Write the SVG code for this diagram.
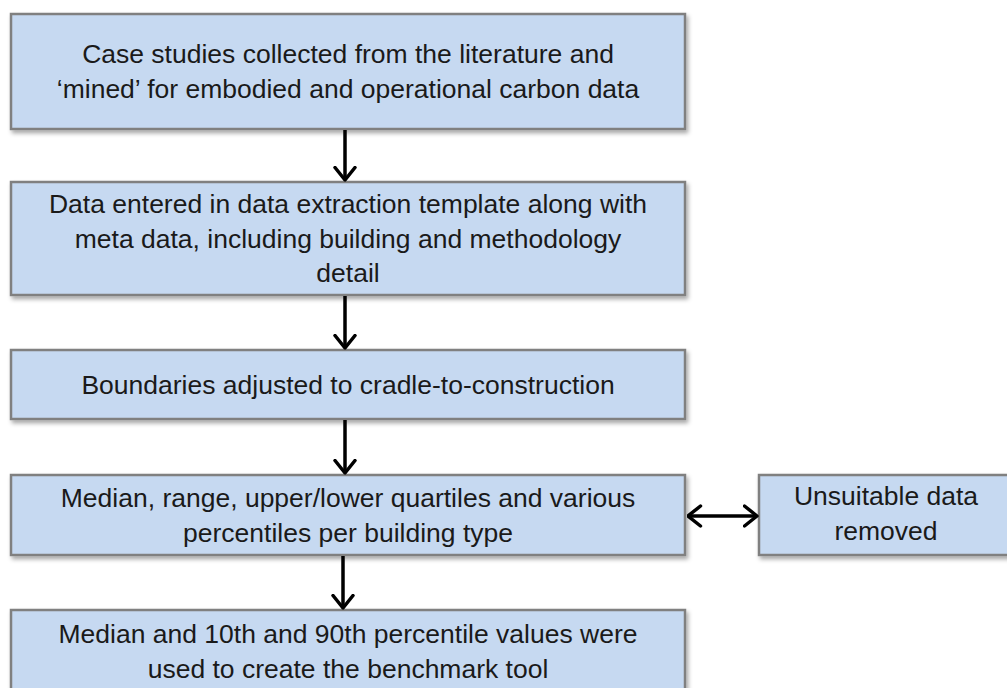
<svg xmlns="http://www.w3.org/2000/svg" width="1007" height="688" viewBox="0 0 1007 688">
<style>
.box{fill:#c6d9f1;stroke:#808080;stroke-width:2.5;filter:url(#sh)}
.t{font-family:"Liberation Sans",Arial,sans-serif;font-size:26.5px;fill:#1a1a1a;text-anchor:middle}
.c{stroke:#000;stroke-width:3.5;fill:none}
</style>
<defs>
<filter id="sh" x="-5%" y="-10%" width="110%" height="130%">
<feDropShadow dx="2" dy="3" stdDeviation="2" flood-color="#000" flood-opacity="0.35"/>
</filter>
<marker id="ah" viewBox="0 0 16 24" refX="14.5" refY="12" markerWidth="16" markerHeight="24" markerUnits="userSpaceOnUse" orient="auto-start-reverse">
<path d="M2,2 L14.5,12 L2,22" fill="none" stroke="#000" stroke-width="3.5" stroke-linecap="round" stroke-linejoin="round"/>
</marker>
</defs>
<g id="n1"><rect class="box" x="11" y="14" width="674" height="115"/>
<text class="t" x="348" y="63">Case studies collected from the literature and</text>
<text class="t" x="348" y="98">‘mined’ for embodied and operational carbon data</text></g>
<g id="n2"><rect class="box" x="11" y="182" width="674" height="113"/>
<text class="t" x="348" y="213">Data entered in data extraction template along with</text>
<text class="t" x="348" y="248">meta data, including building and methodology</text>
<text class="t" x="348" y="282">detail</text></g>
<g id="n3"><rect class="box" x="11" y="350" width="674" height="69"/>
<text class="t" x="348" y="394">Boundaries adjusted to cradle-to-construction</text></g>
<g id="n4"><rect class="box" x="11" y="475" width="674" height="80"/>
<text class="t" x="348" y="507">Median, range, upper/lower quartiles and various</text>
<text class="t" x="348" y="542">percentiles per building type</text></g>
<g id="n5"><rect class="box" x="759" y="475" width="260" height="80"/>
<text class="t" x="886" y="505">Unsuitable data</text>
<text class="t" x="886" y="540">removed</text></g>
<g id="n6"><rect class="box" x="11" y="610" width="674" height="100"/>
<text class="t" x="348" y="643">Median and 10th and 90th percentile values were</text>
<text class="t" x="348" y="678">used to create the benchmark tool</text></g>
<g id="connectors">
<line class="c" x1="345" y1="130" x2="345" y2="180" marker-end="url(#ah)"/>
<line class="c" x1="345" y1="296" x2="345" y2="348" marker-end="url(#ah)"/>
<line class="c" x1="345" y1="420" x2="345" y2="473" marker-end="url(#ah)"/>
<line class="c" x1="343" y1="556" x2="343" y2="608" marker-end="url(#ah)"/>
<line class="c" x1="688" y1="516" x2="757" y2="516" marker-start="url(#ah)" marker-end="url(#ah)"/>
</g>
</svg>
